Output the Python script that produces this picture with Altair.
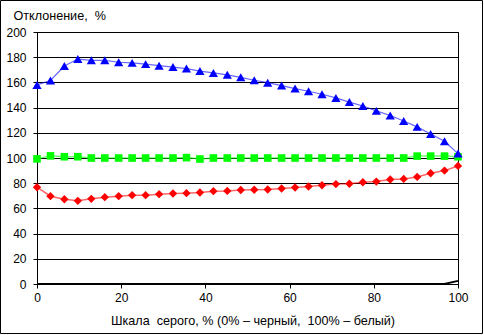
import altair as alt
import pandas as pd

# Grey scale, % (0% black, 100% white)
x_vals = [0, 3.2, 6.5, 9.7, 12.9, 16.1, 19.4, 22.6, 25.8, 29.0, 32.3, 35.5, 38.7, 41.9,
          45.2, 48.4, 51.6, 54.8, 58.1, 61.3, 64.5, 67.7, 71.0, 74.2, 77.4, 80.6, 83.9,
          87.1, 90.3, 93.5, 96.8, 100]

blue_vals = [158, 161.5, 173, 178.5, 177.5, 177.5, 176, 175.5, 174.5, 173.3, 172.2, 171,
             169, 167.5, 166, 164, 161.7, 159.8, 157.5, 155.1, 153, 150.6, 147.7, 144.4,
             141.3, 137.4, 133.7, 129.4, 124.7, 119.1, 113.3, 103.5]

green_vals = [99.3, 101.7, 101, 101, 100, 100, 100, 100, 100, 100, 100, 100.3, 99.2, 100,
              100, 100, 100, 100, 100, 100, 100, 100, 100, 100, 100, 100, 100, 100, 101.5,
              101.5, 101.5, 101]

red_vals = [76.8, 69.7, 67.3, 66, 67.6, 68.9, 69.7, 70.5, 70.5, 71.3, 71.8, 72.1, 72.6,
            73.7, 73.9, 74.6, 74.8, 75, 75.8, 76.6, 77.4, 78.4, 79.3, 79.6, 80.8, 81.3,
            82.9, 83.4, 85, 87.9, 90, 93.7]

black_vals = [0, 0, 0, 0, 0, 0, 0, 0, 0, 0, 0, 0, 0, 0, 0, 0, 0, 0, 0, 0, 0, 0, 0, 0, 0,
              0, 0, 0, 0, 0, 0, 2.5]

x_ticks = [0, 20, 40, 60, 80, 100]
y_ticks = [0, 20, 40, 60, 80, 100, 120, 140, 160, 180, 200]

FONT = "Liberation Sans"
W, H = 421, 252
PAD_L, PAD_T = 37, 32

x_scale = alt.Scale(domain=[0, 100], nice=False, zero=False)
y_scale = alt.Scale(domain=[0, 200], nice=False)


def series_df(vals):
    return pd.DataFrame({"x": x_vals, "y": vals})


x_enc = alt.X(
    "x:Q", scale=x_scale,
    axis=alt.Axis(values=x_ticks, grid=False, tickSize=4, tickColor="black",
                  domainColor="black", labelFont=FONT, labelFontSize=12,
                  labelColor="black", labelPadding=4, labelFlush=False,
                  title="Шкала\u00a0 серого, % (0% – черный,\u00a0 100% – белый)",
                  titleFont=FONT, titleFontSize=12.6, titleFontWeight="normal",
                  titleColor="black", titleX=215.5, titleY=40, titleAlign="center",
                  titleBaseline="alphabetic"),
)
y_enc = alt.Y(
    "y:Q", scale=y_scale,
    axis=alt.Axis(values=y_ticks, grid=True, gridColor="black", gridWidth=1,
                  gridOpacity=1, tickSize=4, tickColor="black", domainColor="black",
                  labelFont=FONT, labelFontSize=12, labelColor="black", labelPadding=7,
                  labelFlush=False,
                  title="Отклонение,\u00a0 %", titleFont=FONT, titleFontSize=12.6,
                  titleFontWeight="normal", titleColor="black", titleAngle=0,
                  titleAlign="left", titleBaseline="alphabetic", titleX=-24, titleY=-13),
)


def line_layer(vals, color, width, opacity):
    return alt.Chart(series_df(vals)).mark_line(
        color=color, strokeWidth=width, opacity=opacity, clip=False
    ).encode(x=x_enc, y=y_enc)


def point_layer(vals, color, shape, size):
    return alt.Chart(series_df(vals)).mark_point(
        color=color, fill=color, filled=True, shape=shape, size=size, opacity=1,
        strokeWidth=0, clip=False
    ).encode(x=x_enc, y=y_enc)


border = alt.Chart(pd.DataFrame({"a": [0]})).mark_rect(
    fill=None, stroke="black", strokeWidth=1, clip=False
).encode(
    x=alt.value(-PAD_L + 0.5), x2=alt.value(482.5 - PAD_L),
    y=alt.value(-PAD_T + 0.5), y2=alt.value(333.5 - PAD_T),
)

chart = alt.layer(
    line_layer(black_vals, "black", 2, 1),
    line_layer(red_vals, "#ff0000", 1.5, 0.6),
    point_layer(red_vals, "#ff0000", "diamond", 70),
    line_layer(green_vals, "#00ff00", 1.5, 0.6),
    point_layer(green_vals, "#00ff00", "square", 58),
    line_layer(blue_vals, "#0000ff", 1.2, 0.6),
    point_layer(blue_vals, "#0000ff", "triangle-up", 85),
    border,
).properties(
    width=W, height=H,
    autosize=alt.AutoSizeParams(type="none"),
    padding={"left": PAD_L, "top": PAD_T, "right": 484 - PAD_L - W, "bottom": 335 - PAD_T - H},
    background="white",
).configure_view(
    stroke="black", strokeWidth=1
)

chart.save("out.html", embed_options={"renderer": "svg", "actions": False})
